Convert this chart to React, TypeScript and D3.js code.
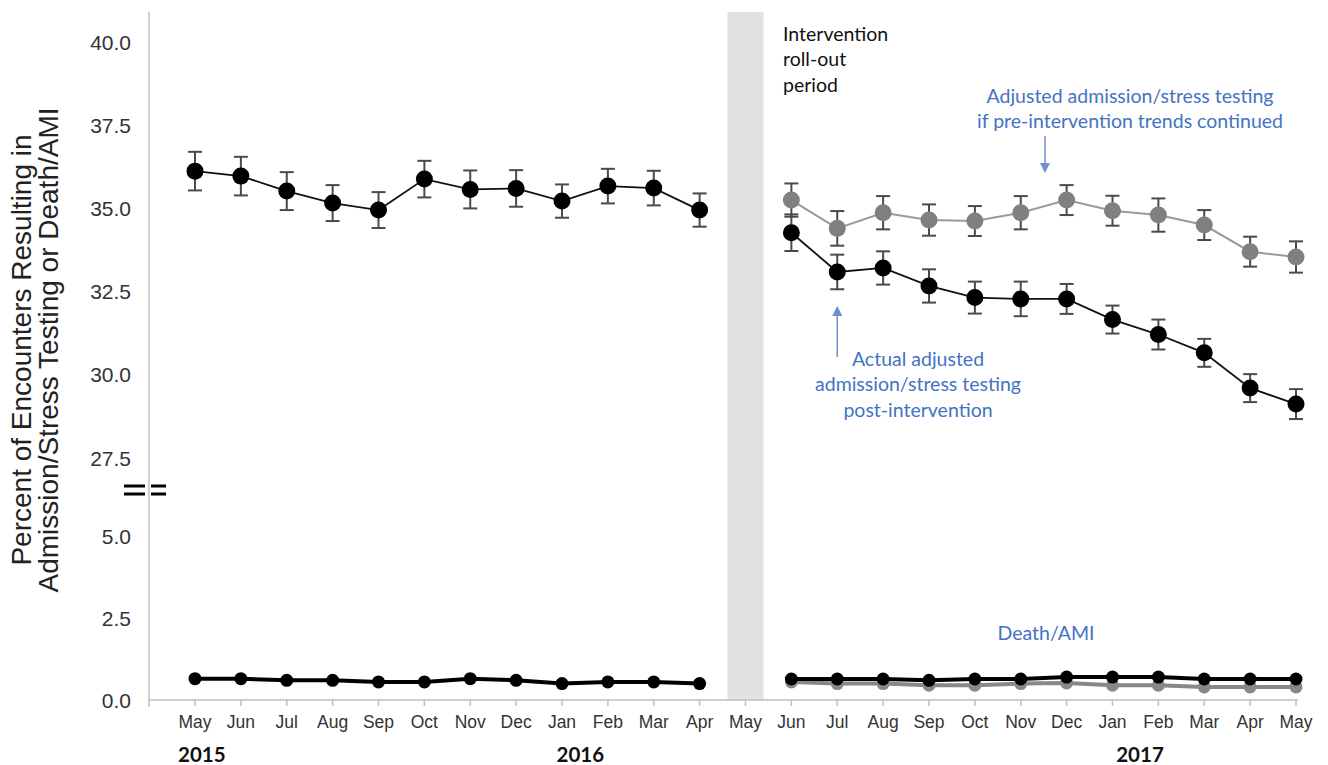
import React from "react";
import * as d3 from "d3";

const months = ["May","Jun","Jul","Aug","Sep","Oct","Nov","Dec","Jan","Feb","Mar","Apr","May","Jun","Jul","Aug","Sep","Oct","Nov","Dec","Jan","Feb","Mar","Apr","May"];

// pre-intervention admission/stress testing (May 2015 - Apr 2016)
const preAdmit = [36.12, 35.97, 35.52, 35.16, 34.95, 35.88, 35.57, 35.6, 35.22, 35.67, 35.61, 34.95];
const preAdmitErr = [0.58, 0.58, 0.57, 0.54, 0.54, 0.55, 0.57, 0.55, 0.5, 0.52, 0.52, 0.5];
// post-intervention actual (Jun 2016 - May 2017)
const postActual = [34.27, 33.09, 33.21, 32.67, 32.32, 32.28, 32.28, 31.66, 31.21, 30.66, 29.6, 29.12];
const postActualErr = [0.55, 0.52, 0.5, 0.5, 0.48, 0.52, 0.45, 0.42, 0.45, 0.42, 0.42, 0.45];
// counterfactual if pre-intervention trends continued
const postCounter = [35.25, 34.4, 34.87, 34.65, 34.62, 34.87, 35.25, 34.93, 34.8, 34.5, 33.7, 33.54];
const postCounterErr = [0.5, 0.52, 0.5, 0.47, 0.45, 0.5, 0.45, 0.45, 0.5, 0.45, 0.45, 0.47];
// Death/AMI
const preDeath = [0.65, 0.65, 0.6, 0.6, 0.55, 0.55, 0.65, 0.6, 0.5, 0.55, 0.55, 0.5];
const postDeathActual = [0.64, 0.64, 0.64, 0.6, 0.64, 0.64, 0.7, 0.7, 0.7, 0.64, 0.64, 0.64];
const postDeathCounter = [0.55, 0.5, 0.5, 0.45, 0.45, 0.5, 0.52, 0.45, 0.45, 0.4, 0.4, 0.4];

const yTicksHigh = [27.5, 30.0, 32.5, 35.0, 37.5, 40.0];
const yTicksLow = [0.0, 2.5, 5.0];
const yearLabels = ["2015", "2016", "2017"];
const yearIdx = [0.15, 8.4, 20.6];

const preIdx = d3.range(0, 12);
const postIdx = d3.range(13, 25);

export default function App() {
  const x = d3.scaleLinear().domain([0, 24]).range([195, 1296]);
  const yHigh = d3.scaleLinear().domain([27.5, 40]).range([458, 42]);
  const yLow = d3.scaleLinear().domain([0, 5]).range([700, 536]);

  const lineHigh = d3.line<[number, number]>().x(d => x(d[0])).y(d => yHigh(d[1]));
  const lineLow = d3.line<[number, number]>().x(d => x(d[0])).y(d => yLow(d[1]));

  const zip = (idx: number[], v: number[]) => idx.map((i, k) => [i, v[k]] as [number, number]);

  const preA = zip(preIdx, preAdmit);
  const postA = zip(postIdx, postActual);
  const postC = zip(postIdx, postCounter);
  const preD = zip(preIdx, preDeath);
  const postDA = zip(postIdx, postDeathActual);
  const postDC = zip(postIdx, postDeathCounter);

  const errBars = (pts: [number, number][], err: number[], key: string) =>
    pts.map((p, k) => {
      const cx = x(p[0]);
      const y1 = yHigh(p[1] + err[k]);
      const y2 = yHigh(p[1] - err[k]);
      return (
        <g key={key + k} stroke="#4a4a4a" strokeWidth={2}>
          <line x1={cx} x2={cx} y1={y1} y2={y2} />
          <line x1={cx - 7} x2={cx + 7} y1={y1} y2={y1} />
          <line x1={cx - 7} x2={cx + 7} y1={y2} y2={y2} />
        </g>
      );
    });

  const arial = "Arial, 'Liberation Sans', sans-serif";
  const calibri = "Lato, 'Open Sans', sans-serif";
  const blue = "#4472C4";

  return (
    <svg width={1328} height={765} style={{ position: "absolute", left: 0, top: 0, background: "#fff" }}>
      <defs>
        <marker id="arr" viewBox="0 0 10 10" refX="8" refY="5" markerWidth="7" markerHeight="7" orient="auto">
          <path d="M0,0 L10,5 L0,10 z" fill="#6f8fd0" />
        </marker>
      </defs>
      {/* roll-out band */}
      <rect x={x(12) - 18} y={12} width={36} height={688} fill="#e2e2e2" />

      {/* axes */}
      <line x1={149} x2={149} y1={12} y2={700} stroke="#bfbfbf" strokeWidth={1.5} />
      <line x1={149} x2={x(24) + 2} y1={700} y2={700} stroke="#bfbfbf" strokeWidth={1.5} />
      <line x1={149} x2={149} y1={700} y2={707} stroke="#bfbfbf" strokeWidth={1.5} />
      {months.map((m, i) => (
        <g key={"m" + i}>
          <line x1={x(i)} x2={x(i)} y1={700} y2={706} stroke="#bfbfbf" strokeWidth={1.5} />
          <text x={x(i)} y={728} textAnchor="middle" fontFamily={arial} fontSize={17.5} fill="#333">{m}</text>
        </g>
      ))}
      {yTicksHigh.map(t => (
        <text key={"th" + t} x={131} y={yHigh(t) + 7.5} textAnchor="end" fontFamily={arial} fontSize={21} fill="#333">{t.toFixed(1)}</text>
      ))}
      {yTicksLow.map(t => (
        <text key={"tl" + t} x={131} y={yLow(t) + 7.5} textAnchor="end" fontFamily={arial} fontSize={21} fill="#333">{t.toFixed(1)}</text>
      ))}
      {/* axis break */}
      <g stroke="#000" strokeWidth={3}>
        <line x1={124} x2={145} y1={486} y2={486} />
        <line x1={124} x2={145} y1={494} y2={494} />
        <line x1={151} x2={166} y1={486} y2={486} />
        <line x1={151} x2={166} y1={494} y2={494} />
      </g>
      {yearLabels.map((yl, i) => (
        <text key={yl} x={x(yearIdx[i])} y={762} textAnchor="middle" fontFamily={calibri} fontWeight="bold" fontSize={20.5} fill="#111">{yl}</text>
      ))}

      {/* y axis title */}
      <g transform="translate(0,350) rotate(-90)" fontFamily={arial} fontSize={28} fill="#222" textAnchor="middle">
        <text x={0} y={31}>Percent of Encounters Resulting in</text>
        <text x={0} y={58}>Admission/Stress Testing or Death/AMI</text>
      </g>

      {/* Death/AMI lines */}
      <path d={lineLow(postDC) || ""} fill="none" stroke="#888" strokeWidth={4} />
      {postDC.map((p, k) => <circle key={"dc" + k} cx={x(p[0])} cy={yLow(p[1])} r={6.5} fill="#888" />)}
      <path d={lineLow(preD) || ""} fill="none" stroke="#000" strokeWidth={4} />
      <path d={lineLow(postDA) || ""} fill="none" stroke="#000" strokeWidth={4} />
      {preD.map((p, k) => <circle key={"pd" + k} cx={x(p[0])} cy={yLow(p[1])} r={6.5} fill="#000" />)}
      {postDA.map((p, k) => <circle key={"da" + k} cx={x(p[0])} cy={yLow(p[1])} r={6.5} fill="#000" />)}

      {/* admission lines */}
      <path d={lineHigh(postC) || ""} fill="none" stroke="#9a9a9a" strokeWidth={2} />
      {errBars(postC, postCounterErr, "ec")}
      {postC.map((p, k) => <circle key={"c" + k} cx={x(p[0])} cy={yHigh(p[1])} r={8.5} fill="#808080" />)}

      <path d={lineHigh(preA) || ""} fill="none" stroke="#111" strokeWidth={1.8} />
      <path d={lineHigh(postA) || ""} fill="none" stroke="#111" strokeWidth={1.8} />
      {errBars(preA, preAdmitErr, "ep")}
      {errBars(postA, postActualErr, "ea")}
      {preA.map((p, k) => <circle key={"p" + k} cx={x(p[0])} cy={yHigh(p[1])} r={8.5} fill="#000" />)}
      {postA.map((p, k) => <circle key={"a" + k} cx={x(p[0])} cy={yHigh(p[1])} r={8.5} fill="#000" />)}

      {/* annotations */}
      <g fontFamily={calibri} fontSize={19.5} fill="#111">
        <text x={783} y={41}>Intervention</text>
        <text x={783} y={66}>roll-out</text>
        <text x={783} y={92}>period</text>
      </g>
      <g fontFamily={calibri} fontSize={19.5} fill={blue} textAnchor="middle">
        <text x={1130} y={103}>Adjusted admission/stress testing</text>
        <text x={1130} y={128}>if pre-intervention trends continued</text>
        <text x={918} y={366}>Actual adjusted</text>
        <text x={918} y={391}>admission/stress testing</text>
        <text x={918} y={417}>post-intervention</text>
        <text x={1046} y={640}>Death/AMI</text>
      </g>
      <line x1={1045} x2={1045} y1={136} y2={171} stroke="#6f8fd0" strokeWidth={1.5} markerEnd="url(#arr)" />
      <line x1={x(14)} x2={x(14)} y1={357} y2={308} stroke="#6f8fd0" strokeWidth={1.5} markerEnd="url(#arr)" />
    </svg>
  );
}
